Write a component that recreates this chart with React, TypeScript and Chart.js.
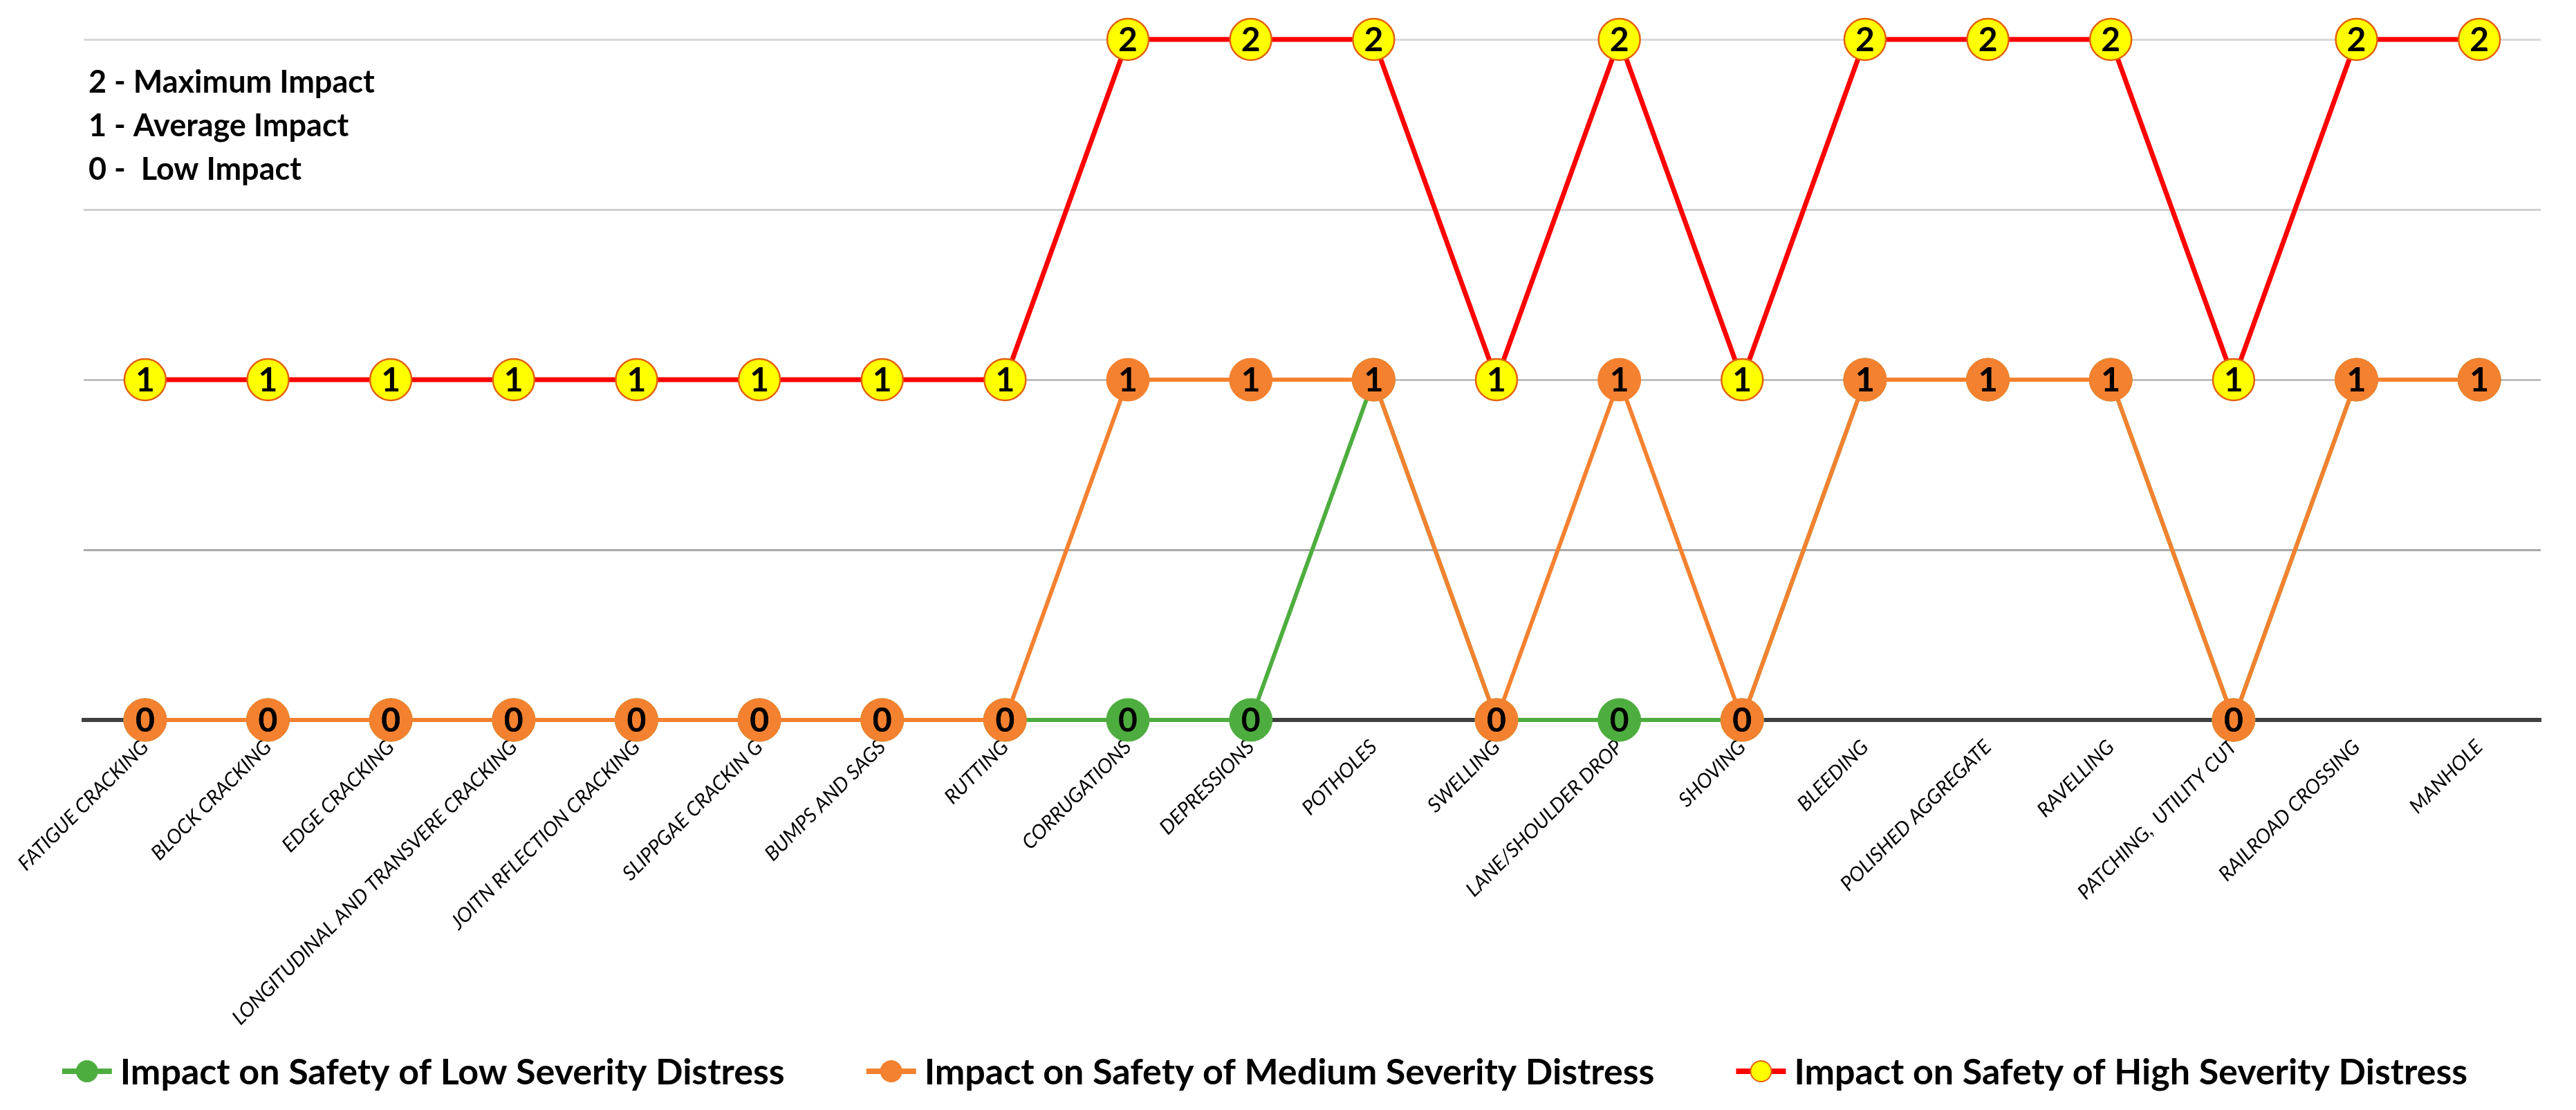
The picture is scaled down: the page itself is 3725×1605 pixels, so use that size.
import React, { useEffect, useRef } from 'react';
import { Chart, registerables } from 'chart.js';

Chart.register(...registerables);

const categories = [
  'FATIGUE CRACKING',
  'BLOCK CRACKING',
  'EDGE CRACKING',
  'LONGITUDINAL AND TRANSVERE CRACKING',
  'JOITN RFLECTION CRACKING',
  'SLIPPGAE CRACKIN G',
  'BUMPS AND SAGS',
  'RUTTING',
  'CORRUGATIONS',
  'DEPRESSIONS',
  'POTHOLES',
  'SWELLING',
  'LANE/SHOULDER DROP',
  'SHOVING',
  'BLEEDING',
  'POLISHED AGGREGATE',
  'RAVELLING',
  'PATCHING,  UTILITY CUT',
  'RAILROAD CROSSING',
  'MANHOLE',
];

const lowSeverity = [0, 0, 0, 0, 0, 0, 0, 0, 0, 0, 1, 0, 0, 0, 1, 1, 1, 0, 1, 1];
const mediumSeverity = [0, 0, 0, 0, 0, 0, 0, 0, 1, 1, 1, 0, 1, 0, 1, 1, 1, 0, 1, 1];
const highSeverity = [1, 1, 1, 1, 1, 1, 1, 1, 2, 2, 2, 1, 2, 1, 2, 2, 2, 1, 2, 2];

const seriesLabels = [
  'Impact on Safety of Low Severity Distress',
  'Impact on Safety of Medium Severity Distress',
  'Impact on Safety of High Severity Distress',
];

const noteLines = ['2 - Maximum Impact', '1 - Average Impact', '0 -  Low Impact'];

const FONT = 'Lato, "Open Sans", sans-serif';

const gridColors: Record<string, string> = {
  '2': '#D9D9D9',
  '1.5': '#D0D0D0',
  '1': '#BFBFBF',
  '0.5': '#A8A8A8',
  '0': '#404040',
};

const dataLabelPlugin = {
  id: 'dataLabels',
  afterDatasetsDraw(chart: any) {
    const ctx = chart.ctx;
    ctx.save();
    ctx.font = `bold 48px ${FONT}`;
    ctx.textAlign = 'center';
    ctx.textBaseline = 'middle';
    ctx.fillStyle = '#000000';
    chart.data.datasets.forEach((ds: any, i: number) => {
      const meta = chart.getDatasetMeta(i);
      meta.data.forEach((pt: any, j: number) => {
        const v = ds.data[j];
        if (v === null || v === undefined) return;
        ctx.fillText(String(v), pt.x, pt.y + 2);
      });
    });
    ctx.restore();
  },
};

const notePlugin = {
  id: 'note',
  afterDraw(chart: any) {
    const ctx = chart.ctx;
    ctx.save();
    ctx.font = `bold 45px ${FONT}`;
    ctx.textAlign = 'left';
    ctx.textBaseline = 'middle';
    ctx.fillStyle = '#000000';
    noteLines.forEach((line, i) => {
      ctx.fillText(line, 128, 119 + i * 63);
    });
    ctx.restore();
  },
};

const legendPlugin = {
  id: 'customLegend',
  afterDraw(chart: any) {
    const ctx = chart.ctx;
    ctx.save();
    ctx.font = `bold 52px ${FONT}`;
    ctx.textBaseline = 'middle';
    ctx.textAlign = 'left';
    const iconW = 72;
    const iconGap = 12;
    const itemGap = 118;
    const items = chart.data.datasets.map((ds: any) => ({
      label: ds.label,
      w: ctx.measureText(ds.label).width,
      line: ds.borderColor,
      fill: ds.pointBackgroundColor,
      stroke: ds.pointBorderColor,
    }));
    const total =
      items.reduce((s: number, it: any) => s + iconW + iconGap + it.w, 0) + itemGap * (items.length - 1);
    const cy = 1549;
    let x = 1829 - total / 2;
    items.forEach((it: any) => {
      ctx.strokeStyle = it.line;
      ctx.lineWidth = 8;
      ctx.beginPath();
      ctx.moveTo(x, cy);
      ctx.lineTo(x + iconW, cy);
      ctx.stroke();
      ctx.beginPath();
      ctx.arc(x + iconW / 2, cy, 15, 0, Math.PI * 2);
      ctx.fillStyle = it.fill;
      ctx.fill();
      ctx.lineWidth = 2;
      ctx.strokeStyle = it.stroke;
      ctx.stroke();
      ctx.fillStyle = '#000000';
      ctx.fillText(it.label, x + iconW + iconGap, cy + 2);
      x += iconW + iconGap + it.w + itemGap;
    });
    ctx.restore();
  },
};

export default function App() {
  const canvasRef = useRef<HTMLCanvasElement | null>(null);

  useEffect(() => {
    if (!canvasRef.current) return;
    const chart = new Chart(canvasRef.current, {
      type: 'line',
      data: {
        labels: categories,
        datasets: [
          {
            label: seriesLabels[0],
            data: lowSeverity,
            borderColor: '#4EAD3F',
            backgroundColor: '#4EAD3F',
            pointBackgroundColor: '#4EAD3F',
            pointBorderColor: '#4EAD3F',
            borderWidth: 6,
            pointRadius: 31,
            pointHoverRadius: 31,
            pointBorderWidth: 1,
            order: 3,
            clip: false,
          },
          {
            label: seriesLabels[1],
            data: mediumSeverity,
            borderColor: '#F4812F',
            backgroundColor: '#F4812F',
            pointBackgroundColor: '#F4812F',
            pointBorderColor: '#F4812F',
            borderWidth: 6,
            pointRadius: 31,
            pointHoverRadius: 31,
            pointBorderWidth: 1,
            order: 2,
            clip: false,
          },
          {
            label: seriesLabels[2],
            data: highSeverity,
            borderColor: '#FF0000',
            backgroundColor: '#FFFF00',
            pointBackgroundColor: '#FFFF00',
            pointBorderColor: '#E2600C',
            borderWidth: 7,
            pointRadius: 30,
            pointHoverRadius: 30,
            pointBorderWidth: 2.5,
            order: 1,
            clip: false,
          },
        ],
      },
      options: {
        animation: false,
        responsive: true,
        maintainAspectRatio: false,
        events: [],
        layout: { padding: { top: 57, left: 121, right: 51, bottom: 0 } },
        plugins: {
          legend: { display: false },
          tooltip: { enabled: false },
        },
        scales: {
          x: {
            offset: true,
            grid: { display: false, drawTicks: false },
            border: { display: true, color: '#404040', width: 6 },
            ticks: {
              autoSkip: false,
              maxRotation: 45,
              minRotation: 45,
              padding: 22,
              color: '#000000',
              font: { family: FONT, size: 29, style: 'italic' },
            },
            afterFit: (scale: any) => {
              scale.height = 564;
            },
          },
          y: {
            min: 0,
            max: 2,
            ticks: { display: false, stepSize: 0.5 },
            border: { display: false },
            grid: {
              drawTicks: false,
              lineWidth: 3,
              color: (c: any) => gridColors[String(c.tick?.value)] || '#C8C8C8',
            },
            afterFit: (scale: any) => {
              scale.width = 0;
            },
          },
        },
      },
      plugins: [dataLabelPlugin, notePlugin, legendPlugin],
    });
    return () => chart.destroy();
  }, []);

  return (
    <div style={{ position: 'absolute', left: 0, top: 0, width: 3725, height: 1605, background: '#ffffff' }}>
      <canvas ref={canvasRef} />
    </div>
  );
}
